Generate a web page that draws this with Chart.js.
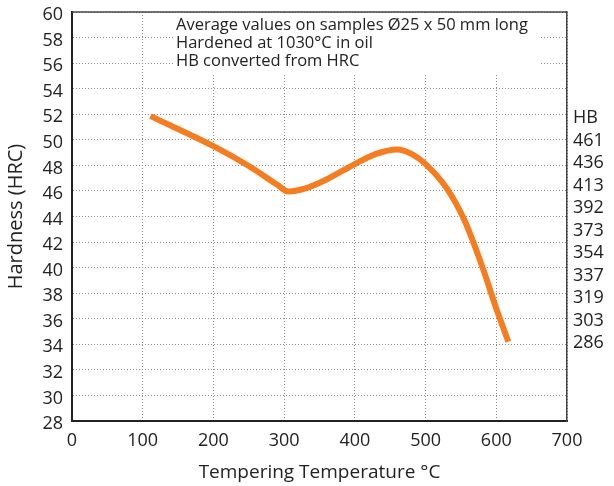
<!DOCTYPE html>
<html>
<head>
<meta charset="utf-8">
<script src="https://cdn.jsdelivr.net/npm/chart.js@4"></script>
<style>
    html, body { margin: 0; padding: 0; background: #fff; }
    #wrap { width: 614px; height: 486px; }
</style>
</head>
<body>
<div id="wrap"><canvas id="myChart" width="614" height="486"></canvas></div>
<script>
// tempering temperature (°C) and hardness (HRC)
const temps = [111, 200, 250, 290, 306, 330, 360, 400, 430, 460, 480, 500, 530, 555, 580, 600, 617];
const hardness = [51.85, 49.5, 47.95, 46.5, 45.95, 46.2, 46.9, 48.1, 48.9, 49.25, 48.9, 48.1, 46.2, 43.7, 40.1, 36.8, 34.2];
// HB conversion column on the right
const hbLabels = ['HB', '461', '436', '413', '392', '373', '354', '337', '319', '303', '286'];
const noteLines = [
    'Average values on samples Ø25 x 50 mm long',
    'Hardened at 1030°C in oil',
    'HB converted from HRC'
];

const FONT = "'Open Sans', sans-serif";
const TEXT = '#222';

// white note box over the grid + top border
const notePlugin = {
    id: 'note',
    beforeDatasetsDraw(chart) {
        const ctx = chart.ctx;
        const a = chart.chartArea;
        ctx.save();
        ctx.fillStyle = '#fff';
        ctx.fillRect(a.left + 103, a.top + 1, 366, 61);
        ctx.fillStyle = TEXT;
        ctx.font = '16.5px ' + FONT;
        ctx.textBaseline = 'middle';
        noteLines.forEach((line, i) => {
            ctx.fillText(line, a.left + 104, a.top + 13 + i * 18);
        });
        ctx.restore();
    },
    afterDraw(chart) {
        const ctx = chart.ctx;
        const a = chart.chartArea;
        ctx.save();
        ctx.strokeStyle = '#444';
        ctx.lineWidth = 1.5;
        ctx.beginPath();
        ctx.moveTo(a.left, a.top);
        ctx.lineTo(a.right, a.top);
        ctx.stroke();
        ctx.restore();
    }
};

new Chart(document.getElementById('myChart'), {
    type: 'line',
    data: {
        datasets: [{
            data: temps.map((t, i) => ({ x: t, y: hardness[i] })),
            borderColor: '#F57D20',
            borderWidth: 6,
            pointRadius: 0,
            cubicInterpolationMode: 'monotone',
            fill: false
        }]
    },
    options: {
        responsive: false,
        animation: false,
        layout: { padding: { top: 12, left: 0, right: 0, bottom: 0 } },
        plugins: {
            legend: { display: false },
            tooltip: { enabled: false }
        },
        scales: {
            x: {
                type: 'linear',
                min: 0,
                max: 700,
                ticks: { stepSize: 100, color: TEXT, font: { family: FONT, size: 18 }, padding: 9 },
                grid: { color: '#8a8a8a', drawTicks: false, lineWidth: 1 },
                border: { display: true, color: '#222', width: 2, dash: [1, 2] },
                title: {
                    display: true,
                    text: 'Tempering Temperature °C',
                    color: TEXT,
                    font: { family: FONT, size: 19 },
                    padding: { top: 0, bottom: 2 }
                },
                afterFit(s) { s.height = 65; s.paddingLeft = 0; s.paddingRight = 0; }
            },
            y: {
                position: 'left',
                min: 28,
                max: 60,
                ticks: { stepSize: 2, color: TEXT, font: { family: FONT, size: 18 }, padding: 9, labelOffset: 3 },
                grid: { color: '#8a8a8a', drawTicks: false, lineWidth: 1 },
                border: { display: true, color: '#222', width: 2, dash: [1, 2] },
                title: {
                    display: true,
                    text: 'Hardness (HRC)',
                    color: TEXT,
                    font: { family: FONT, size: 20 },
                    padding: { top: 4, bottom: 0 }
                },
                afterFit(s) { s.width = 72; s.paddingTop = 0; s.paddingBottom = 0; }
            },
            hb: {
                type: 'linear',
                position: 'right',
                reverse: true,
                min: -4.71,
                max: 13.47,
                afterBuildTicks(s) {
                    s.ticks = hbLabels.map((_, i) => ({ value: i }));
                },
                ticks: {
                    color: TEXT,
                    font: { family: FONT, size: 18 },
                    padding: 6,
                    autoSkip: false,
                    callback: (v) => hbLabels[v]
                },
                grid: { display: false, drawTicks: false },
                border: { display: true, color: '#444', width: 1.5 },
                afterFit(s) { s.width = 47; s.paddingTop = 0; s.paddingBottom = 0; }
            }
        }
    },
    plugins: [notePlugin]
});
</script>
</body>
</html>
